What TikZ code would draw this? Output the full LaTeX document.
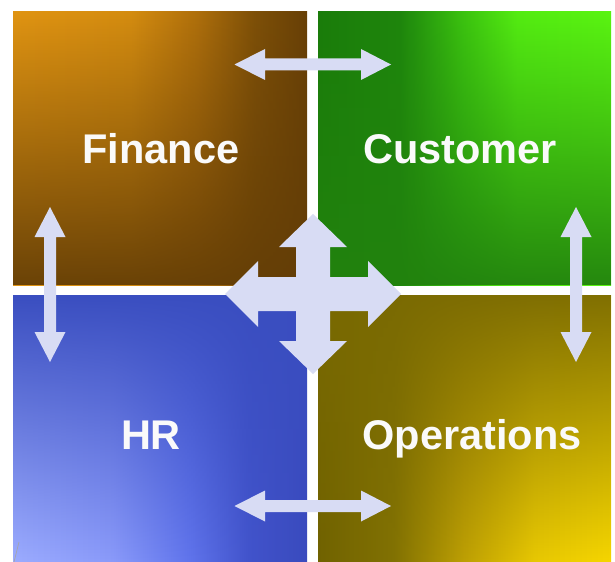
\documentclass[tikz,border=0pt]{standalone}
\usepackage{fontspec}
\setmainfont{Liberation Sans}
\usetikzlibrary{fadings}
\definecolor{arrowfill}{HTML}{D8DCF4}
% horizontal colour runs of the four quadrants (stops between 25bp and 75bp)
\pgfdeclarehorizontalshading{finH}{100bp}{%
  color(0bp)=(rgb,255:red,224;green,148;blue,18);
  color(25bp)=(rgb,255:red,224;green,148;blue,18);
  color(45bp)=(rgb,255:red,212;green,140;blue,16);
  color(56bp)=(rgb,255:red,176;green,112;blue,12);
  color(66bp)=(rgb,255:red,126;green,80;blue,8);
  color(75bp)=(rgb,255:red,104;green,64;blue,6);
  color(100bp)=(rgb,255:red,104;green,64;blue,6)}
\pgfdeclarehorizontalshading{cusH}{100bp}{%
  color(0bp)=(rgb,255:red,26;green,124;blue,10);
  color(25bp)=(rgb,255:red,26;green,124;blue,10);
  color(39bp)=(rgb,255:red,30;green,134;blue,12);
  color(50bp)=(rgb,255:red,60;green,196;blue,16);
  color(59bp)=(rgb,255:red,84;green,236;blue,18);
  color(75bp)=(rgb,255:red,90;green,244;blue,18);
  color(100bp)=(rgb,255:red,90;green,244;blue,18)}
\pgfdeclarehorizontalshading{hrH}{100bp}{%
  color(0bp)=(rgb,255:red,156;green,172;blue,255);
  color(25bp)=(rgb,255:red,156;green,172;blue,255);
  color(42bp)=(rgb,255:red,138;green,154;blue,250);
  color(55bp)=(rgb,255:red,96;green,116;blue,236);
  color(65bp)=(rgb,255:red,66;green,84;blue,204);
  color(75bp)=(rgb,255:red,58;green,74;blue,190);
  color(100bp)=(rgb,255:red,58;green,74;blue,190)}
\pgfdeclarehorizontalshading{opsH}{100bp}{%
  color(0bp)=(rgb,255:red,112;green,98;blue,0);
  color(25bp)=(rgb,255:red,112;green,98;blue,0);
  color(38bp)=(rgb,255:red,130;green,114;blue,2);
  color(50bp)=(rgb,255:red,190;green,160;blue,4);
  color(62bp)=(rgb,255:red,232;green,200;blue,2);
  color(75bp)=(rgb,255:red,246;green,214;blue,0);
  color(100bp)=(rgb,255:red,246;green,214;blue,0)}
\definecolor{finShade}{RGB}{100,62,6}
\definecolor{cusShade}{RGB}{34,130,14}
\definecolor{hrShade}{RGB}{58,78,192}
\definecolor{opsShade}{RGB}{122,106,2}
% vertical veils laid over the colour runs
\tikzfading[name=veilbottom, top color=transparent!100,
  middle color=transparent!100, bottom color=transparent!5]
\tikzfading[name=veiltop, top color=transparent!0,
  middle color=transparent!50, bottom color=transparent!100]
\tikzfading[name=veiltopshort, top color=transparent!5,
  middle color=transparent!85, bottom color=transparent!100]
\begin{document}
\begin{tikzpicture}[x=1bp,y=-1bp,
  quadlabel/.style={anchor=base,inner sep=0pt,text=white!96!gray,
    font=\fontsize{41.5bp}{48bp}\selectfont\bfseries},
  blockarrow/.style={fill=arrowfill,draw=none}]
\useasboundingbox (0,0) rectangle (615,562);
\fill[white] (0,0) rectangle (615,562);

% four shaded quadrants
\shade[shading=finH] (13,12) rectangle (307,285);
\fill[finShade,path fading=veilbottom] (13,12) rectangle (307,285);
\shade[shading=cusH] (318,12) rectangle (611,285);
\fill[cusShade,path fading=veilbottom] (318,12) rectangle (611,285);
\shade[shading=hrH] (13,295) rectangle (307,562);
\fill[hrShade,path fading=veiltop] (13,295) rectangle (307,562);
\shade[shading=opsH] (318,295) rectangle (611,562);
\fill[opsShade,path fading=veiltopshort] (318,295) rectangle (611,562);

% faint stray stroke at the lower left
\draw[gray!70,line width=0.7bp] (14,562) -- (19,542);

% labels
\node[quadlabel] (fin) at (161,164) {Finance};
\node[quadlabel] (cus) at (460,164) {Customer};
\node[quadlabel] (hr)  at (151,449) {HR};
\node[quadlabel] (ops) at (472,449) {Operations};

% horizontal double arrows
\foreach \cy in {64.5,506}{
  \fill[blockarrow] (234.5,\cy) -- (265,\cy-15.5) -- (265,\cy-6) -- (361,\cy-6)
    -- (361,\cy-15.5) -- (391,\cy) -- (361,\cy+15.5) -- (361,\cy+6)
    -- (265,\cy+6) -- (265,\cy+15.5) -- cycle;
}
% vertical double arrows
\foreach \cx in {50,576}{
  \fill[blockarrow] (\cx,207) -- (\cx+15.5,237) -- (\cx+6,237) -- (\cx+6,332)
    -- (\cx+15.5,332) -- (\cx,362) -- (\cx-15.5,332) -- (\cx-6,332)
    -- (\cx-6,237) -- (\cx-15.5,237) -- cycle;
}
% four-way arrow in the middle
\begin{scope}[shift={(313,294)}]
  \fill[blockarrow] (0,-80) -- (34,-47) -- (17,-47) -- (17,-17) -- (55,-17)
    -- (55,-33) -- (88,0) -- (55,33) -- (55,17) -- (17,17) -- (17,47)
    -- (34,47) -- (0,80) -- (-34,47) -- (-17,47) -- (-17,17) -- (-55,17)
    -- (-55,33) -- (-88,0) -- (-55,-33) -- (-55,-17) -- (-17,-17)
    -- (-17,-47) -- (-34,-47) -- cycle;
\end{scope}
\end{tikzpicture}
\end{document}
